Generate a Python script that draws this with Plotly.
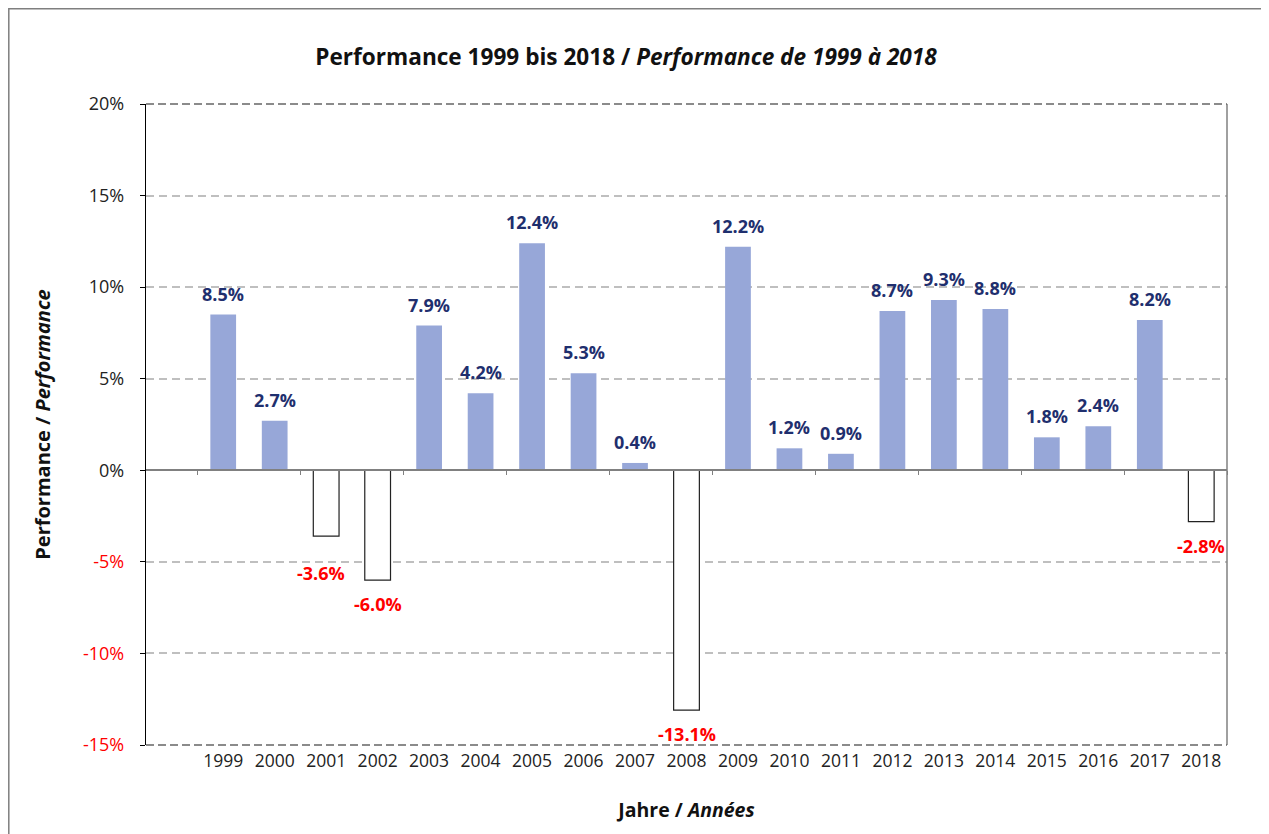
import plotly.graph_objects as go

years = list(range(1999, 2019))
perf = [8.5, 2.7, -3.6, -6.0, 7.9, 4.2, 12.4, 5.3, 0.4, -13.1,
        12.2, 1.2, 0.9, 8.7, 9.3, 8.8, 1.8, 2.4, 8.2, -2.8]
y_ticks = [-15, -10, -5, 0, 5, 10, 15, 20]

POS_FILL = "#97a7d8"
NAVY = "#1f2f6e"
RED = "#ff0000"
FONT = "Open Sans"

# page body adds an 8px offset; size the figure to compensate
OFF = 8
W, H = 1269 - OFF, 834 - OFF
L, T = 146 - OFF, 104 - OFF
R = W - (1227 - OFF)
B = H - (745 - OFF)
pw, ph = W - L - R, H - T - B

ymin, ymax = -15, 20
xmin, xmax = years[0] - 1.5, years[-1] + 0.5

fills = [POS_FILL if v >= 0 else "white" for v in perf]
lcols = [POS_FILL if v >= 0 else "#222222" for v in perf]
lwid = [0 if v >= 0 else 1.2 for v in perf]

fig = go.Figure()
fig.add_trace(go.Bar(
    x=years, y=perf, width=0.5,
    marker=dict(color=fills, line=dict(color=lcols, width=lwid)),
    showlegend=False, hoverinfo="x+y",
))

# value labels
extra = {2001: 13}
for yr, v in zip(years, perf):
    if v >= 0:
        fig.add_annotation(x=yr, y=v, text=f"<b>{v:.1f}%</b>", showarrow=False,
                           yshift=21, font=dict(family=FONT, size=18, color=NAVY))
    else:
        fig.add_annotation(x=yr, y=v, text=f"<b>{v:.1f}%</b>", showarrow=False,
                           yshift=-24 - extra.get(yr, 0), xshift=-5 if yr == 2001 else 0,
                           font=dict(family=FONT, size=18, color=RED))

ticktext = [(f'<span style="color:{RED}">{t}%</span>' if t < 0 else f"{t}%") for t in y_ticks]

fig.update_layout(
    width=W, height=H,
    margin=dict(l=L, r=R, t=T, b=B, autoexpand=False),
    paper_bgcolor="white", plot_bgcolor="white",
    font=dict(family=FONT, size=17, color="#222222"),
    title=dict(text="<b>Performance 1999 bis 2018 / <i>Performance de 1999 à 2018</i></b>",
               x=(626 - OFF) / W, xanchor="center",
               y=1 - (57 - OFF) / H, yanchor="middle",
               font=dict(family=FONT, size=22.6, color="#111111")),
    bargap=0.5,
    xaxis=dict(range=[xmin, xmax], tickmode="array", tickvals=years,
               ticktext=[str(y) for y in years], showgrid=False, zeroline=False,
               showline=False, ticks="", tickfont=dict(size=17.5, color="#222222"),
               ticklabelstandoff=3, automargin=False,
               title=dict(text="<b>Jahre / <i>Années</i></b>", standoff=32,
                          font=dict(family=FONT, size=19.5, color="#111111"))),
    xaxis2=dict(range=[xmin, xmax], overlaying="x", anchor="free",
                position=(0 - ymin) / (ymax - ymin), side="bottom",
                tickmode="linear", tick0=years[0] - 0.5, dtick=2,
                showticklabels=False, ticks="outside", ticklen=4, tickwidth=1.2,
                tickcolor="#808080", showline=True, linecolor="#808080", linewidth=2,
                showgrid=False, zeroline=False, automargin=False),
    yaxis=dict(range=[ymin, ymax], tickmode="array", tickvals=y_ticks, ticktext=ticktext,
               showgrid=True, gridcolor="#bfbfbf", griddash="8px,5px", gridwidth=2,
               zeroline=False, showline=True, linecolor="black", linewidth=1.3,
               ticks="outside", ticklen=5, tickcolor="black", tickwidth=1,
               tickfont=dict(size=18, color="#222222"), ticklabelstandoff=12,
               automargin=False,
               title=dict(text="<b>Performance / <i>Performance</i></b>", standoff=26,
                          font=dict(family=FONT, size=20, color="#111111"))),
)

# dummy trace to activate xaxis2
fig.add_trace(go.Scatter(x=[years[0]], y=[0], xaxis="x2", mode="markers",
                         marker=dict(opacity=0), showlegend=False, hoverinfo="skip"))

def px_x(x):
    return (x - OFF - L) / pw

def px_y(y):
    return (H + OFF - B - y) / ph

# plot frame: right solid, top & bottom dashed
fig.add_shape(type="line", xref="paper", yref="paper", x0=1, x1=1, y0=0, y1=1,
              line=dict(color="#808080", width=1.5))
for yy in (0, 1):
    fig.add_shape(type="line", xref="paper", yref="paper", x0=0, x1=1, y0=yy, y1=yy,
                  line=dict(color="#666666", width=1.5, dash="8px,4px"))
# outer chart border
fig.add_shape(type="rect", xref="paper", yref="paper",
              x0=px_x(OFF + 0.8), x1=px_x(1263), y0=px_y(870), y1=px_y(OFF + 0.8),
              line=dict(color="#7f7f7f", width=1.5), fillcolor="rgba(0,0,0,0)", layer="below")

fig.write_html("out.html")
